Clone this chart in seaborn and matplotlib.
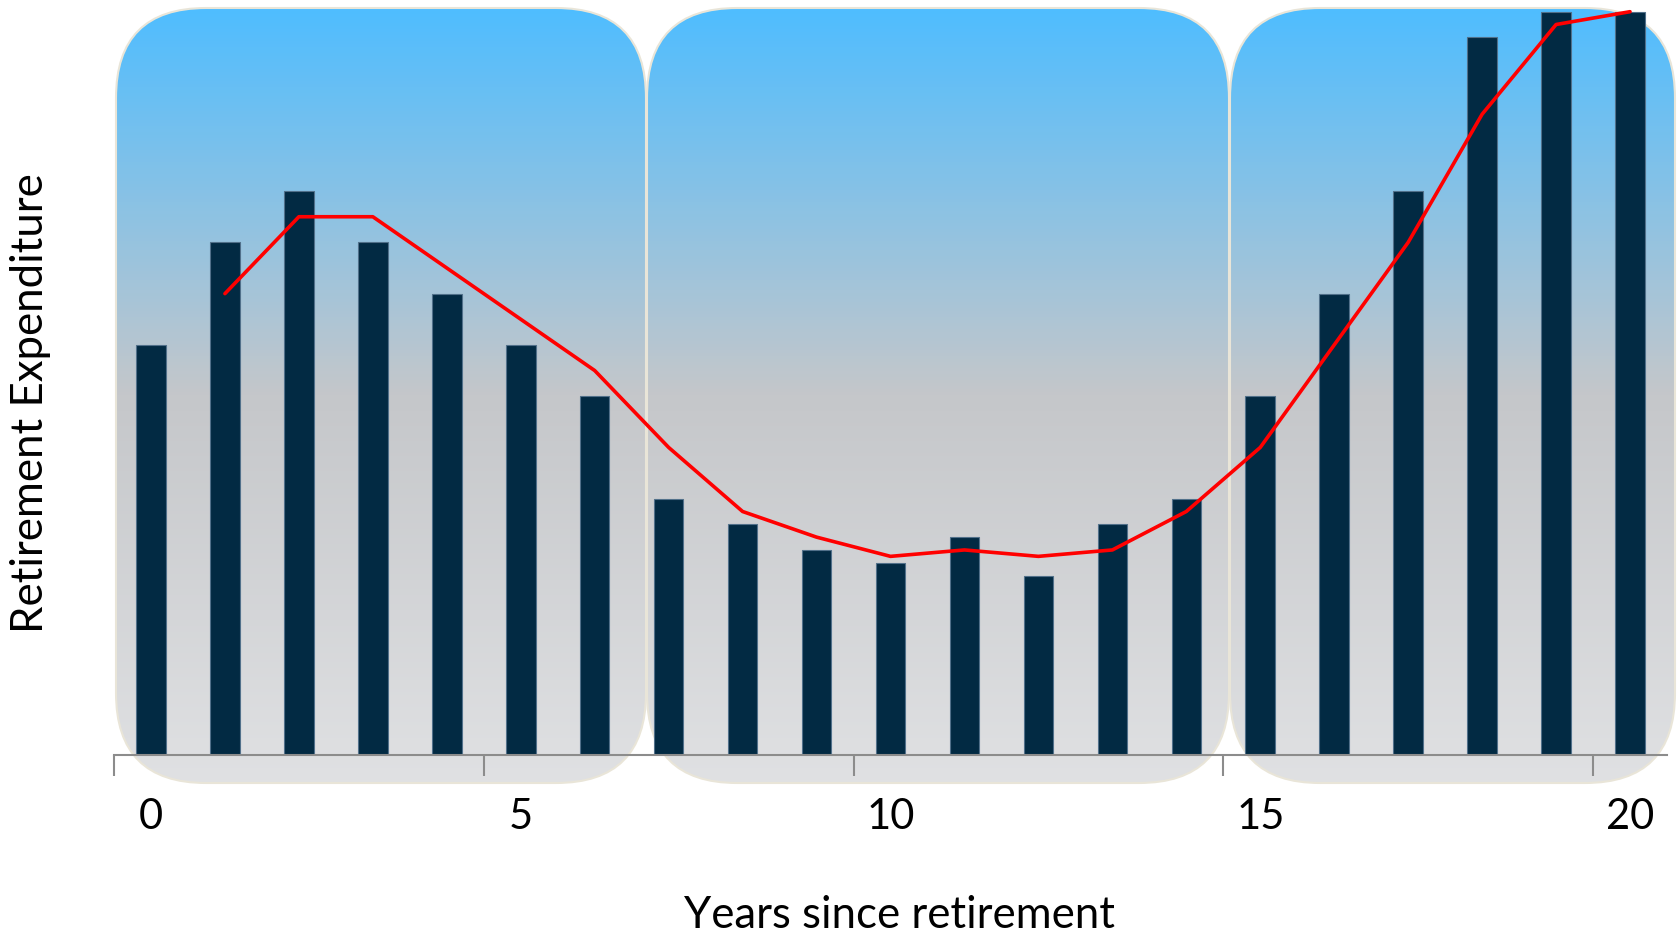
import numpy as np
import matplotlib
matplotlib.use("Agg")
import matplotlib.pyplot as plt
from matplotlib.patches import FancyBboxPatch
from matplotlib.colors import LinearSegmentedColormap
import seaborn as sns

years = list(range(21))
expenditure = [16, 20, 22, 20, 18, 16, 14, 10, 9, 8, 7.5, 8.5, 7, 9, 10, 14, 18, 22, 28, 29, 29]
# 2-period moving average trendline, starts at year 1
trend_years = list(range(1, 21))
trend = [18, 21, 21, 19, 17, 15, 12, 9.5, 8.5, 7.75, 8, 7.75, 8, 9.5, 12, 16, 20, 25, 28.5, 29]
tick_pos = [0, 5, 10, 15, 20]
tick_labels = ["0", "5", "10", "15", "20"]

sns.set_theme(style="white")
plt.rcParams["font.family"] = ["Lato", "DejaVu Sans"]
plt.rcParams["text.color"] = "black"
plt.rcParams["xtick.color"] = "black"
plt.rcParams["axes.labelcolor"] = "black"

W, H = 1680, 937
fig = plt.figure(figsize=(16.8, 9.37), dpi=100)

######
# background panels (pixel coords)
######
bg = fig.add_axes([0, 0, 1, 1])
cmap = LinearSegmentedColormap.from_list(
    "panel", [(0, "#4FBDFF"), (0.5, "#C5C7CA"), (1, "#E0E1E3")])
grad = np.linspace(0, 1, 256).reshape(-1, 1)
for x0, x1 in [(116, 646), (647, 1229), (1230, 1675)]:
    patch = FancyBboxPatch((x0, 9), x1 - x0, 784 - 9,
                           boxstyle="round,pad=0,rounding_size=90",
                           fc="none", ec="#E9E5D8", lw=1.5, zorder=2)
    bg.add_patch(patch)
    im = bg.imshow(grad, cmap=cmap, extent=(x0, x1, 784, 9),
                   aspect="auto", zorder=1)
    im.set_clip_path(patch)
bg.set_xlim(0, W)
bg.set_ylim(H, 0)
bg.axis("off")

######
# bars + trend
######
ax = fig.add_axes([114 / W, (H - 756) / H, (1667 - 114) / W, 751 / H])
ax.patch.set_alpha(0)
sns.barplot(x=years, y=expenditure, color="#022A43", width=0.4, saturation=1,
            edgecolor="#51708A", linewidth=0.8, ax=ax)
sns.lineplot(x=trend_years, y=trend, color="red", lw=2.6, ax=ax)
ax.set_xlim(-0.5, 20.5)
ax.set_ylim(0, 29.3)

ax.set_xticks(tick_pos, labels=tick_labels)
ax.set_xticks([p - 0.5 for p in tick_pos], minor=True)
ax.tick_params(axis="x", which="major", bottom=True, length=0, pad=30, labelsize=30)
ax.tick_params(axis="x", which="minor", bottom=True, length=15, width=1.5,
               color="#8C8C8C", direction="out")
ax.set_yticks([])
for s in ["left", "top", "right"]:
    ax.spines[s].set_visible(False)
ax.spines["bottom"].set_color("#8C8C8C")
ax.spines["bottom"].set_linewidth(1.5)

ax.set_xlabel("Years since retirement", fontsize=31.5, va="center")
ax.xaxis.set_label_coords(0.506, -0.212)
ax.set_ylabel("Retirement Expenditure", fontsize=31.5, va="center", ha="center")
ax.yaxis.set_label_coords(-0.054, 0.47)

plt.savefig("out.png", dpi=100)
